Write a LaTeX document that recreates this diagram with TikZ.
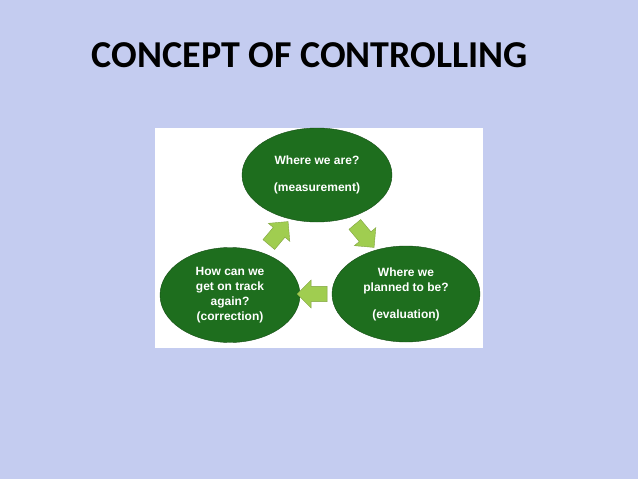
\documentclass[tikz,border=0pt]{standalone}
\usepackage{fontspec}
\setmainfont{Liberation Sans}
\newfontfamily\titlefont{Carlito}
\usetikzlibrary{shapes.geometric,shapes.arrows}
\definecolor{bgblue}{RGB}{196,204,240}
\definecolor{dgreen}{RGB}{30,110,30}
\definecolor{lgreen}{RGB}{160,205,80}
\tikzset{
  oval/.style={ellipse,fill=dgreen,draw=dgreen!70!black,text=white,font=\bfseries\fontsize{12}{15}\selectfont,align=center,inner sep=0pt},
  blockarrow/.style={single arrow,fill=lgreen,draw=lgreen!80!black,minimum height=30pt,minimum width=28pt,single arrow head extend=6pt,inner sep=7pt}
}
\begin{document}
\begin{tikzpicture}[x=1pt,y=-1pt]
\useasboundingbox (0,0) rectangle (638,479);
\fill[bgblue] (0,0) rectangle (638,479);
\fill[white] (155,128) rectangle (483,348);
\node[font=\titlefont\bfseries\fontsize{38}{44}\selectfont,text=black] (title) at (310,55) {CONCEPT OF CONTROLLING};
\node[oval,minimum width=150pt,minimum height=94pt] (top) at (317,175) {Where we are?\\[12pt](measurement)};
\node[oval,minimum width=148pt,minimum height=96pt] (right) at (406,294) {Where we\\planned to be?\\[12pt](evaluation)};
\node[oval,minimum width=140pt,minimum height=95pt] (left) at (230,295) {How can we\\get on track\\again?\\(correction)};
\node[blockarrow,rotate=-50] (a1) at (362,233) {};
\node[blockarrow,rotate=180] (a2) at (316,294) {};
\node[blockarrow,rotate=50] (a3) at (276,236) {};
\end{tikzpicture}
\end{document}
